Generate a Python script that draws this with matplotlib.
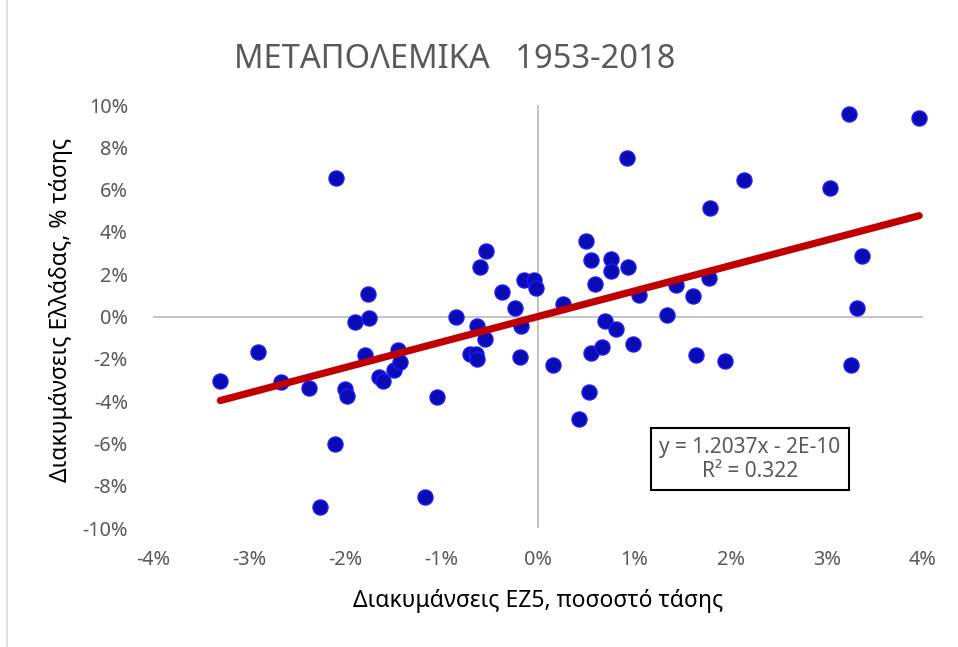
import matplotlib
matplotlib.use('Agg')
import matplotlib.pyplot as plt
import numpy as np

# διακυμάνσεις ΕΖ5 (x) και Ελλάδας (y), % τάσης, 1953-2018
x_ez5 = [-3.30, -2.91, -2.67, -2.38, -2.26, -2.11, -2.10, -2.01, -1.98, -1.90,
         -1.80, -1.77, -1.76, -1.65, -1.61, -1.50, -1.45, -1.43, -1.17, -1.05,
         -0.85, -0.71, -0.64, -0.63, -0.63, -0.60, -0.55, -0.54, -0.37, -0.24,
         -0.19, -0.18, -0.15, -0.04, -0.02, 0.16, 0.26, 0.43, 0.50, 0.53,
         0.55, 0.55, 0.59, 0.66, 0.70, 0.76, 0.76, 0.81, 0.92, 0.94,
         0.99, 1.05, 1.34, 1.43, 1.61, 1.64, 1.78, 1.79, 1.94, 2.14,
         3.03, 3.23, 3.25, 3.31, 3.37, 3.96]
y_gr = [-3.03, -1.69, -3.10, -3.37, -9.00, -6.02, 6.56, -3.42, -3.78, -0.24,
        -1.84, 1.07, -0.06, -2.84, -3.06, -2.52, -1.58, -2.13, -8.54, -3.81,
        -0.03, -1.77, -1.77, -2.03, -0.43, 2.36, -1.06, 3.09, 1.17, 0.41,
        -1.92, -0.43, 1.72, 1.72, 1.36, -2.28, 0.57, -4.84, 3.55, -3.55,
        2.68, -1.72, 1.56, -1.42, -0.19, 2.73, 2.16, -0.58, 7.49, 2.32,
        -1.29, 1.03, 0.05, 1.47, 0.99, -1.81, 1.81, 5.12, -2.11, 6.46,
        6.09, 9.58, -2.27, 0.38, 2.87, 9.38]

slope = 1.2037
intercept = -2e-10
eq_text = 'y = 1.2037x - 2E-10\nR² = 0.322'

xticks = [-4, -3, -2, -1, 0, 1, 2, 3, 4]
yticks = [-10, -8, -6, -4, -2, 0, 2, 4, 6, 8, 10]

plt.rcParams['font.family'] = ['Noto Sans', 'DejaVu Sans']
plt.rcParams['axes.unicode_minus'] = False

fig = plt.figure(figsize=(9.58, 6.47), dpi=100)
ax = fig.add_axes([0.1597, 0.1839, 0.8038, 0.6538])

gray = '#595959'
ax.axhline(0, color='#BFBFBF', lw=1.3, zorder=1)
ax.axvline(0, color='#BFBFBF', lw=1.3, zorder=1)

ax.plot(x_ez5, y_gr, 'o', ms=10.8, mfc='#0B0BB3', mec='#1A1AFF', mew=1.0, zorder=3,
        clip_on=False)

xs = np.array([min(x_ez5), max(x_ez5)])
ax.plot(xs, slope * xs + intercept, color='#C00000', lw=5.2, solid_capstyle='round', zorder=4)

ax.set_xlim(-4, 4)
ax.set_ylim(-10, 10)
ax.set_xticks(xticks)
ax.set_yticks(yticks)
ax.set_xticklabels([f'{v}%' for v in xticks])
ax.set_yticklabels([f'{v}%' for v in yticks])
ax.tick_params(length=0, labelsize=14.3, labelcolor=gray)
ax.tick_params(axis='x', pad=16)
ax.tick_params(axis='y', pad=18)
for s in ax.spines.values():
    s.set_visible(False)

ax.text(2.2, -6.75, eq_text, ha='center', va='center', fontsize=15, color=gray,
        linespacing=1.2,
        bbox=dict(boxstyle='square,pad=0.4', fc='white', ec='black', lw=1.5), zorder=5)

fig.text(0.475, 0.908, 'ΜΕΤΑΠΟΛΕΜΙΚΑ   1953-2018', ha='center', va='center',
         fontsize=23.5, color=gray)
fig.text(0.562, 0.071, 'Διακυμάνσεις ΕΖ5, ποσοστό τάσης', ha='center', va='center',
         fontsize=16.5, color='black')
fig.text(0.064, 0.521, 'Διακυμάνσεις Ελλάδας, % τάσης', ha='center', va='center',
         rotation=90, fontsize=16.5, color='black')

# λεπτό περίγραμμα αριστερά
fig.add_artist(plt.Line2D([0.0075, 0.0075], [0.0, 1.0], color='#D9D9D9', lw=1.2))

fig.savefig('out.png', dpi=100)
